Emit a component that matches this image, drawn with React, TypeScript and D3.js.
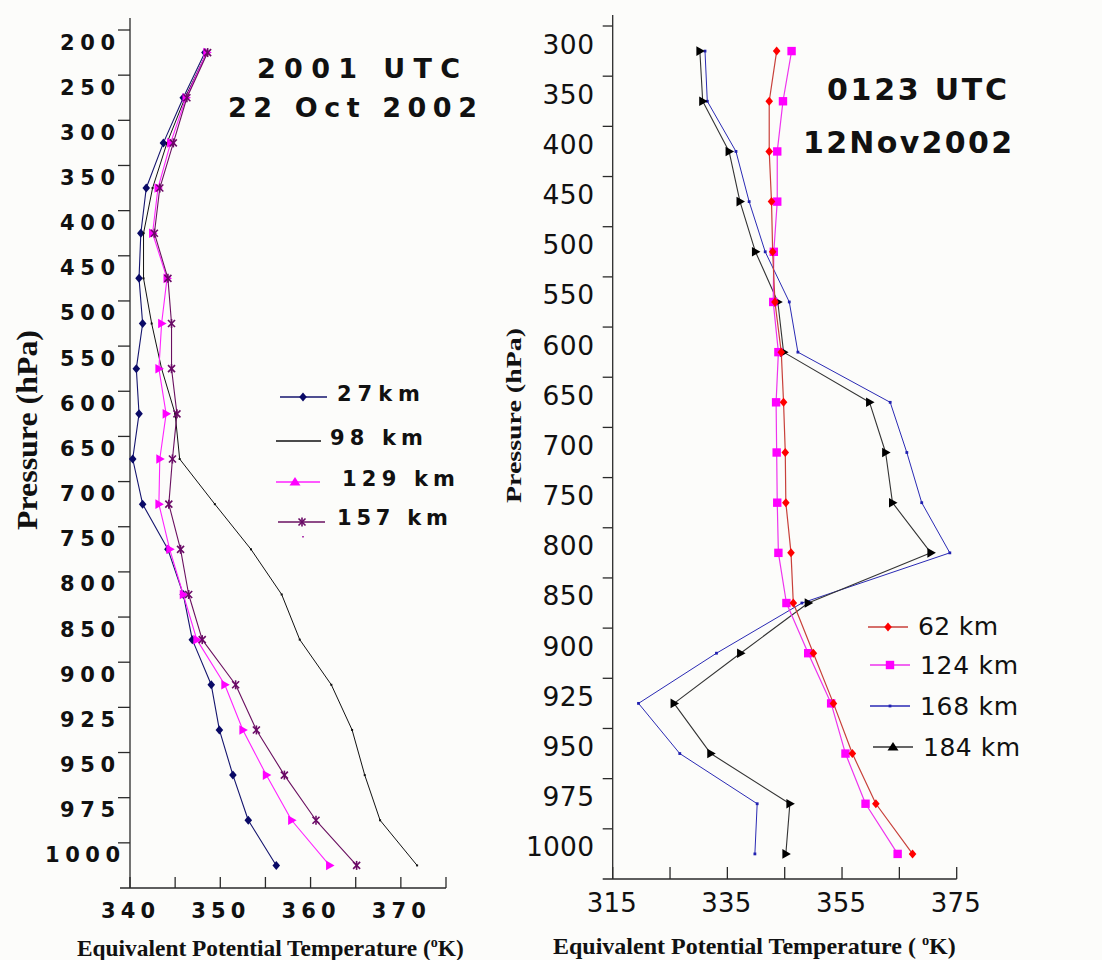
import React from "react";
import * as d3 from "d3";

// ---------- DATA ----------
const leftLevels = ["200","250","300","350","400","450","500","550","600","650","700","750","800","850","900","925","950","975","1000"];
const left27km = [348.3,345.9,343.7,341.8,341.2,341.0,341.4,340.7,341.0,340.3,341.4,344.2,345.9,346.9,349.0,349.9,351.4,353.1,356.2];
const left98km = [348.5,346.1,344.1,342.5,341.5,341.5,342.4,343.5,345.0,345.5,349.4,353.4,356.8,358.8,362.3,364.6,366.0,367.7,371.8];
const left129km = [348.5,346.2,344.5,343.1,342.5,344.1,343.5,343.2,344.0,343.3,343.2,344.4,345.9,347.4,350.5,352.5,355.1,357.9,362.1];
const left157km = [348.6,346.3,344.8,343.3,342.7,344.2,344.6,344.6,345.2,344.7,344.3,345.6,346.5,348.0,351.7,354.0,357.1,360.6,365.1];
const leftXTicks = [340,345,350,355,360,365,370,375];
const leftXLabels = [340,350,360,370];
const leftLegend = ["27km","98 km","129 km","157 km"];
const leftTitle = ["2001 UTC","22 Oct 2002"];

const rightLevels = ["300","350","400","450","500","550","600","650","700","750","800","850","900","925","950","975","1000"];
const right62km = [343.6,342.3,342.3,342.7,342.9,343.3,344.4,344.8,345.1,345.2,346.1,346.5,350.0,353.5,356.8,360.9,367.3];
const right124km = [346.2,344.7,343.7,343.7,343.1,343.0,343.9,343.5,343.6,343.7,343.9,345.3,349.1,353.1,355.6,359.1,364.7];
const right168km = [331.1,331.5,336.5,338.8,341.6,345.8,347.3,363.4,366.3,368.9,373.8,348.0,333.1,319.5,326.7,340.2,339.8];
const right184km = [330.2,330.7,335.3,337.2,339.9,343.8,344.8,359.8,362.6,363.8,370.5,349.1,337.3,325.7,332.1,345.9,345.2];
const rightXTicks = [315,325,335,345,355,365,375];
const rightXLabels = [315,335,355,375];
const rightLegend = ["62 km","124 km","168 km","184 km"];
const rightTitle = ["0123 UTC","12Nov2002"];

const axisTitle = "Equivalent Potential Temperature";
const yTitle = "Pressure (hPa)";

// ---------- STYLE ----------
const WIDE = "'DejaVu Sans', Verdana, sans-serif";
const SERIF = "'Liberation Serif', 'Times New Roman', serif";
const AX = "#2a2a2a";

type MType = "diamond" | "triRight" | "triUp" | "star" | "square" | "dot" | "tiny" | "none";

function Marker({ t, x, y, c }: { t: MType; x: number; y: number; c: string }) {
  switch (t) {
    case "diamond":
      return <path d={`M${x},${y - 4.5}L${x + 3.8},${y}L${x},${y + 4.5}L${x - 3.8},${y}Z`} fill={c} />;
    case "triRight":
      return <path d={`M${x - 3.5},${y - 4.8}L${x + 5},${y}L${x - 3.5},${y + 4.8}Z`} fill={c} />;
    case "triUp":
      return <path d={`M${x},${y - 5}L${x + 5.5},${y + 3.5}L${x - 5.5},${y + 3.5}Z`} fill={c} />;
    case "star":
      return (
        <g stroke={c} strokeWidth={1.6}>
          <line x1={x - 3.5} y1={y - 3.5} x2={x + 3.5} y2={y + 3.5} />
          <line x1={x - 3.5} y1={y + 3.5} x2={x + 3.5} y2={y - 3.5} />
          <line x1={x} y1={y - 4.5} x2={x} y2={y + 4.5} />
        </g>
      );
    case "square":
      return <rect x={x - 4.2} y={y - 4.2} width={8.4} height={8.4} fill={c} />;
    case "dot":
      return <rect x={x - 1.4} y={y - 1.4} width={2.8} height={2.8} fill={c} />;
    case "tiny":
      return <rect x={x - 1} y={y - 1} width={2} height={2} fill={c} />;
    default:
      return null;
  }
}

type Series = { name: string; values: number[]; line: string; mark: string; plotM: MType; legM: MType; width: number };

// ---------- PANEL ----------
function Panel(props: {
  levels: string[];
  series: Series[];
  xDomain: [number, number];
  xRange: [number, number];
  yRange: [number, number];
  xTicks: number[];
  xLabels: number[];
  tickLabelStyle: { size: number; weight: string; pitch: number; glyph: number; right: number; longShift: number; dy: number };
  xLabelStyle: { size: number; weight: string; width: number; y: number; shift: number };
  yTickLen: number;
  xTickLen: number;
  axisLeftExt: number;
  axisTopExt: number;
}) {
  const { levels, series, xDomain, xRange, yRange } = props;
  const x = d3.scaleLinear().domain(xDomain).range(xRange);
  const y = d3.scaleBand<string>().domain(levels).range(yRange).paddingInner(0).paddingOuter(0);
  const bw = y.bandwidth();
  const cy = (i: number) => (y(levels[i]) as number) + bw / 2;
  const x0 = xRange[0];
  const yBottom = yRange[1];
  const ts = props.tickLabelStyle;
  const xs = props.xLabelStyle;

  return (
    <g>
      {/* axes */}
      <line x1={x0} y1={yRange[0] - props.axisTopExt} x2={x0} y2={yBottom} stroke={AX} strokeWidth={1.3} />
      <line x1={x0 - props.axisLeftExt} y1={yBottom} x2={xRange[1]} y2={yBottom} stroke={AX} strokeWidth={1.3} />
      {levels.map((l) => (
        <line key={"yt" + l} x1={x0 - props.yTickLen} x2={x0} y1={y(l) as number} y2={y(l) as number} stroke={AX} strokeWidth={1.3} />
      ))}
      {props.xTicks.map((v) => (
        <line key={"xt" + v} x1={x(v)} x2={x(v)} y1={yBottom} y2={yBottom - props.xTickLen} stroke={AX} strokeWidth={1.3} />
      ))}
      {/* y tick labels */}
      {levels.map((l) => {
        const n = l.length;
        const w = ts.pitch * (n - 1) + ts.glyph;
        const right = ts.right + ts.longShift * (n - 3);
        return (
          <text
            key={"yl" + l}
            x={right - w}
            y={(y(l) as number) + ts.dy}
            fontFamily={WIDE}
            fontSize={ts.size}
            fontWeight={ts.weight}
            fill="#111"
            textLength={w}
            lengthAdjust="spacing"
          >
            {l}
          </text>
        );
      })}
      {/* x tick labels */}
      {props.xLabels.map((v) => (
        <text
          key={"xl" + v}
          x={x(v) + xs.shift - xs.width / 2}
          y={xs.y}
          fontFamily={WIDE}
          fontSize={xs.size}
          fontWeight={xs.weight}
          fill="#111"
          textLength={xs.width}
          lengthAdjust="spacing"
        >
          {String(v)}
        </text>
      ))}
      {/* series */}
      {series.map((s) => {
        const gen = d3
          .line<number>()
          .x((v) => x(v))
          .y((_, i) => cy(i));
        return (
          <g key={s.name}>
            <path d={gen(s.values) || ""} fill="none" stroke={s.line} strokeWidth={s.width} strokeLinejoin="round" />
            {s.values.map((v, i) => (
              <Marker key={i} t={s.plotM} x={x(v)} y={cy(i)} c={s.mark} />
            ))}
          </g>
        );
      })}
    </g>
  );
}

function AxisTitleX({ x, y, size, gap }: { x: number; y: number; size: number; gap: string }) {
  return (
    <text x={x} y={y} fontFamily={SERIF} fontWeight="bold" fontSize={size} fill="#111">
      <tspan>{axisTitle + " (" + gap}</tspan>
      <tspan fontSize={size * 0.6} dy={-size * 0.38}>o</tspan>
      <tspan dy={size * 0.38}>K)</tspan>
    </text>
  );
}

export default function App() {
  const leftSeries: Series[] = [
    { name: "27km", values: left27km, line: "#14146e", mark: "#0a0a66", plotM: "diamond", legM: "diamond", width: 1.1 },
    { name: "98 km", values: left98km, line: "#111", mark: "#111", plotM: "tiny", legM: "none", width: 1 },
    { name: "129 km", values: left129km, line: "#ff22ff", mark: "#ff00ff", plotM: "triRight", legM: "triUp", width: 1.1 },
    { name: "157 km", values: left157km, line: "#6a1060", mark: "#6a0a66", plotM: "star", legM: "star", width: 1.1 },
  ];
  const rightSeries: Series[] = [
    { name: "168 km", values: right168km, line: "#2a2ab4", mark: "#2020b0", plotM: "dot", legM: "dot", width: 1 },
    { name: "184 km", values: right184km, line: "#333", mark: "#000", plotM: "triRight", legM: "triUp", width: 1.1 },
    { name: "124 km", values: right124km, line: "#ee33ee", mark: "#ff00ff", plotM: "square", legM: "square", width: 1.2 },
    { name: "62 km", values: right62km, line: "#c8403a", mark: "#ff0000", plotM: "diamond", legM: "diamond", width: 1.2 },
  ];

  const leftLegPos = [
    { lx1: 280, lx2: 327, ly: 397, mx: 303, tx: 337, tw: 83, ty: 400.6 },
    { lx1: 276, lx2: 321, ly: 441, mx: 298, tx: 330, tw: 93, ty: 444.6 },
    { lx1: 276, lx2: 320, ly: 482, mx: 295, tx: 342, tw: 113, ty: 485.6 },
    { lx1: 278, lx2: 325, ly: 522, mx: 302, tx: 337, tw: 111, ty: 524.6 },
  ];
  const leftLegStyle = [leftSeries[0], leftSeries[1], leftSeries[2], leftSeries[3]];

  const rightLegPos = [
    { lx1: 868, lx2: 908, ly: 627, mx: 888, tx: 918, tw: 80, ty: 635.4 },
    { lx1: 870, lx2: 910, ly: 665, mx: 890, tx: 920, tw: 98, ty: 674.4 },
    { lx1: 870, lx2: 910, ly: 706, mx: 890, tx: 920, tw: 98, ty: 715.2 },
    { lx1: 873, lx2: 913, ly: 747, mx: 893, tx: 923, tw: 97, ty: 756 },
  ];
  const rightLegStyle = [rightSeries[3], rightSeries[2], rightSeries[0], rightSeries[1]];

  return (
    <svg
      width={1102}
      height={960}
      viewBox="0 0 1102 960"
      style={{ position: "absolute", left: 0, top: 0, display: "block" }}
    >
      <rect x={0} y={0} width={1102} height={960} fill="#fcfcfa" />

      {/* LEFT PANEL */}
      <Panel
        levels={leftLevels}
        series={leftSeries}
        xDomain={[340, 375]}
        xRange={[130, 446]}
        yRange={[30, 888]}
        xTicks={leftXTicks}
        xLabels={leftXLabels}
        tickLabelStyle={{ size: 21, weight: "bold", pitch: 20, glyph: 15, right: 115, longShift: 5, dy: 19.5 }}
        xLabelStyle={{ size: 21, weight: "bold", width: 54, y: 917.6, shift: -2 }}
        yTickLen={12}
        xTickLen={11}
        axisLeftExt={10}
        axisTopExt={12}
      />
      {/* left titles */}
      <text x={257} y={78} fontFamily={WIDE} fontWeight="bold" fontSize={27} fill="#111" textLength={203} lengthAdjust="spacing">
        {leftTitle[0]}
      </text>
      <text x={228} y={117} fontFamily={WIDE} fontWeight="bold" fontSize={27} fill="#111" textLength={249} lengthAdjust="spacing">
        {leftTitle[1]}
      </text>
      {/* left legend */}
      {leftLegPos.map((p, i) => (
        <g key={"ll" + i}>
          <line x1={p.lx1} x2={p.lx2} y1={p.ly} y2={p.ly} stroke={leftLegStyle[i].line} strokeWidth={1.3} />
          <Marker t={leftLegStyle[i].legM} x={p.mx} y={p.ly} c={leftLegStyle[i].mark} />
          <text x={p.tx} y={p.ty} fontFamily={WIDE} fontWeight="bold" fontSize={21} fill="#111" textLength={p.tw} lengthAdjust="spacing">
            {leftLegend[i]}
          </text>
        </g>
      ))}
      <rect x={302} y={536} width={2} height={1.5} fill="#b040b0" />
      {/* left axis titles */}
      <g transform="translate(37,430) rotate(-90)">
        <text x={0} y={0} textAnchor="middle" fontFamily={SERIF} fontWeight="bold" fontSize={29} fill="#111" textLength={200} lengthAdjust="spacingAndGlyphs">
          {yTitle}
        </text>
      </g>
      <AxisTitleX x={77} y={956} size={23.4} gap="" />

      {/* RIGHT PANEL */}
      <Panel
        levels={rightLevels}
        series={rightSeries}
        xDomain={[315, 375]}
        xRange={[612.7, 956.7]}
        yRange={[26, 879]}
        xTicks={rightXTicks}
        xLabels={rightXLabels}
        tickLabelStyle={{ size: 26.5, weight: "normal", pitch: 16.5, glyph: 18.5, right: 594, longShift: 0, dy: 27.5 }}
        xLabelStyle={{ size: 26, weight: "normal", width: 50, y: 912, shift: -1 }}
        yTickLen={10}
        xTickLen={12}
        axisLeftExt={10}
        axisTopExt={11}
      />
      {/* right titles */}
      <text x={827} y={100} fontFamily={WIDE} fontWeight="bold" fontSize={30} fill="#111" textLength={180} lengthAdjust="spacing">
        {rightTitle[0]}
      </text>
      <text x={803} y={153} fontFamily={WIDE} fontWeight="bold" fontSize={30} fill="#111" textLength={209} lengthAdjust="spacing">
        {rightTitle[1]}
      </text>
      {/* right legend */}
      {rightLegPos.map((p, i) => (
        <g key={"rl" + i}>
          <line x1={p.lx1} x2={p.lx2} y1={p.ly} y2={p.ly} stroke={rightLegStyle[i].line} strokeWidth={1.3} />
          <Marker t={rightLegStyle[i].legM} x={p.mx} y={p.ly} c={rightLegStyle[i].mark} />
          <text x={p.tx} y={p.ty} fontFamily={WIDE} fontSize={25} fill="#111" textLength={p.tw} lengthAdjust="spacing">
            {rightLegend[i]}
          </text>
        </g>
      ))}
      {/* right axis titles */}
      <g transform="translate(521,415.5) rotate(-90)">
        <text x={0} y={0} textAnchor="middle" fontFamily={SERIF} fontWeight="bold" fontSize={20} fill="#111" textLength={175} lengthAdjust="spacingAndGlyphs">
          {yTitle}
        </text>
      </g>
      <AxisTitleX x={553} y={954} size={24} gap=" " />
    </svg>
  );
}
